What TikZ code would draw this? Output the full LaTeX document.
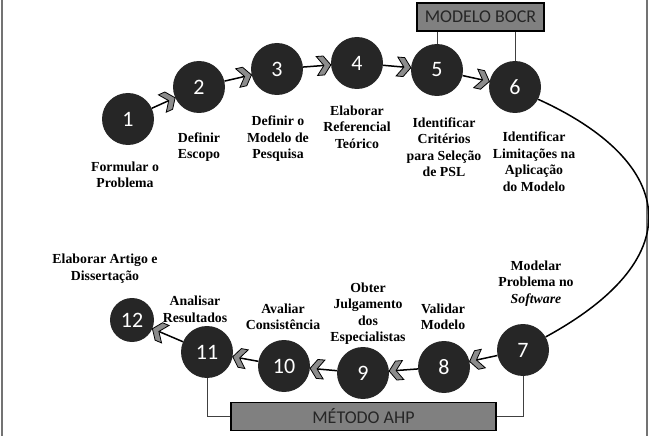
\documentclass[tikz,border=0pt]{standalone}
\usepackage{fontspec}
\setmainfont{Liberation Serif}
\newfontfamily\calibri{Carlito}
\usepackage{tikz}
\usetikzlibrary{decorations.markings}

\definecolor{disc}{HTML}{262626}
\definecolor{chevgray}{HTML}{8C8C8C}
\definecolor{boxgray}{HTML}{808080}

\begin{document}
\begin{tikzpicture}[x=1pt, y=-1pt,
	etapa/.style={circle, fill=disc, minimum size=52pt, inner sep=0pt, text=white, font=\calibri\fontsize{22}{26}\selectfont},
	rotulo/.style={align=center, inner sep=0pt, font=\bfseries\fontsize{13.8}{16.5}\selectfont},
	metodo/.style={draw, line width=1.5pt, fill=boxgray, minimum height=28pt, inner sep=0pt, text=black!85, font=\calibri\fontsize{18}{20}\selectfont},
	seta/.style={line width=1.5pt, postaction={decorate, decoration={markings, mark=at position 1 with {\draw[fill=chevgray, line width=0.8pt] (-14pt,9.5pt) -- (-7pt,9.5pt) -- (0pt,0pt) -- (-7pt,-9.5pt) -- (-14pt,-9.5pt) -- (-7pt,0pt) -- cycle;}}}},
	liga/.style={line width=1pt, draw=black!75}]

	\useasboundingbox (0,0) rectangle (649,436);

	\draw [black!55, line width=1.5pt] (2,0) -- (2,436);
	\draw [black!55, line width=1.5pt] (647,0) -- (647,436);

	\node [etapa] (c1) at (128,119) {1};
	\node [etapa] (c2) at (199,87) {2};
	\node [etapa] (c3) at (277,69) {3};
	\node [etapa] (c4) at (357,63) {4};
	\node [etapa] (c5) at (437,70) {5};
	\node [etapa] (c6) at (515,87) {6};
	\node [etapa] (c7) at (523,350) {7};
	\node [etapa] (c8) at (444,367) {8};
	\node [etapa] (c9) at (363,373) {9};
	\node [etapa] (c10) at (284,366) {10};
	\node [etapa] (c11) at (207,352) {11};
	\node [etapa, minimum size=44pt] (c12) at (132,320) {12};

	\node [metodo, minimum width=127pt] (bocr) at (480.5,17) {MODELO BOCR};
	\node [metodo, minimum width=265pt] (ahp) at (363.5,416.5) {MÉTODO AHP};

	\draw [liga] (c5) -- (c5 |- bocr.south);
	\draw [liga] (c6) -- (c6 |- bocr.south);
	\draw [liga] (c11) |- (ahp);
	\draw [liga] (c7) |- (ahp);

	\draw [seta] (c1) -- (c2);
	\draw [seta] (c2) -- (c3);
	\draw [seta] (c3) -- (c4);
	\draw [seta] (c4) -- (c5);
	\draw [seta] (c5) -- (c6);
	\draw [seta] (c6.-28) .. controls (672,160) and (696,255) .. (c7.30);
	\draw [seta] (c7) -- (c8);
	\draw [seta] (c8) -- (c9);
	\draw [seta] (c9) -- (c10);
	\draw [seta] (c10) -- (c11);
	\draw [seta] (c11) -- (c12);

	\node [rotulo] (t1) at (125,175) {Formular o\\Problema};
	\node [rotulo] (t2) at (199,147) {Definir\\Escopo};
	\node [rotulo] (t3) at (278,139) {Definir o\\Modelo de\\Pesquisa};
	\node [rotulo] (t4) at (357,127) {Elaborar\\Referencial\\Teórico};
	\node [rotulo] (t5) at (444,147) {Identificar\\Critérios\\para Seleção\\de PSL};
	\node [rotulo] (t6) at (534,161.5) {Identificar\\Limitações na\\Aplicação\\do Modelo};
	\node [rotulo] (t7) at (536,283.5) {Modelar\\Problema no\\\textit{Software}};
	\node [rotulo] (t8) at (443,317) {Validar\\Modelo};
	\node [rotulo] (t9) at (368,313.5) {Obter\\Julgamento\\dos\\Especialistas};
	\node [rotulo] (t10) at (283,317) {Avaliar\\Consistência};
	\node [rotulo] (t11) at (195,309.5) {Analisar\\Resultados};
	\node [rotulo] (t12) at (105,268.5) {Elaborar Artigo e\\Dissertação};
\end{tikzpicture}
\end{document}
